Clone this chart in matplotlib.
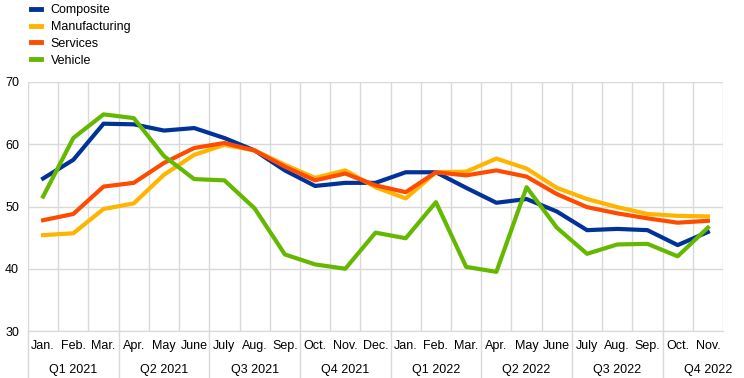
import numpy as np
import matplotlib.pyplot as plt
from matplotlib.lines import Line2D

plt.rcParams['font.family'] = ['Liberation Sans', 'DejaVu Sans']

# --- data (Jan 2021 - Nov 2022) ---
months = ['Jan.', 'Feb.', 'Mar.', 'Apr.', 'May', 'June', 'July', 'Aug.', 'Sep.', 'Oct.', 'Nov.', 'Dec.',
          'Jan.', 'Feb.', 'Mar.', 'Apr.', 'May', 'June', 'July', 'Aug.', 'Sep.', 'Oct.', 'Nov.']
quarters = ['Q1 2021', 'Q2 2021', 'Q3 2021', 'Q4 2021', 'Q1 2022', 'Q2 2022', 'Q3 2022', 'Q4 2022']

composite = [54.5, 57.5, 63.3, 63.2, 62.2, 62.6, 61.0, 59.0, 55.8, 53.3, 53.8, 53.8,
             55.5, 55.5, 53.0, 50.6, 51.2, 49.2, 46.2, 46.4, 46.2, 43.8, 45.9]
manufacturing = [45.4, 45.7, 49.6, 50.5, 55.1, 58.3, 59.9, 59.0, 56.7, 54.6, 55.8, 53.1,
                 51.3, 55.5, 55.6, 57.7, 56.1, 53.0, 51.2, 49.9, 48.8, 48.5, 48.4]
services = [47.8, 48.8, 53.2, 53.8, 57.0, 59.4, 60.2, 59.0, 56.4, 54.2, 55.3, 53.4,
            52.3, 55.5, 55.0, 55.8, 54.8, 52.0, 49.9, 48.9, 48.1, 47.4, 47.7]
vehicle = [51.6, 61.0, 64.8, 64.2, 58.1, 54.4, 54.2, 49.7, 42.3, 40.7, 40.0, 45.8,
           44.9, 50.7, 40.3, 39.5, 53.1, 46.6, 42.4, 43.9, 44.0, 42.0, 46.6]

series = [('Composite', composite, '#003299'),
          ('Manufacturing', manufacturing, '#FFB400'),
          ('Services', services, '#FF4B00'),
          ('Vehicle', vehicle, '#65B800')]

fig = plt.figure(figsize=(7.44, 3.78), dpi=100)
ax = fig.add_axes([28 / 744, 1 - 331 / 378, 695 / 744, 249 / 378])

x = np.arange(len(months)) + 0.5
for name, vals, col in series:
    ax.plot(x, vals, color=col, lw=3, solid_joinstyle='round', label=name)

ax.set_xlim(0, len(months))
ax.set_ylim(30, 70)
ax.set_yticks([30, 40, 50, 60, 70])
ax.set_xticks(np.arange(len(months) + 1))
ax.set_xticklabels([])
ax.tick_params(length=0, labelsize=9, colors='black')
ax.tick_params(axis='y', pad=16.5)
for lbl in ax.get_yticklabels():
    lbl.set_horizontalalignment('left')
ax.grid(True, color='#d9d9d9', lw=1)
ax.set_axisbelow(True)
for s in ['top', 'right', 'left']:
    ax.spines[s].set_visible(False)
ax.spines['bottom'].set_color('#d9d9d9')

# month labels and quarter labels
trans = ax.get_xaxis_transform()
for i, m in enumerate(months):
    ax.text(i + 0.5, -0.062, m, transform=trans, ha='center', va='center', fontsize=9)
for q, name in enumerate(quarters):
    ax.text(q * 3 + 1.5, -0.155, name, transform=trans, ha='center', va='center', fontsize=9)
for b in range(0, len(months), 3):
    ax.plot([b, b], [0, -0.2], transform=trans, color='#d9d9d9', lw=1, clip_on=False)

handles = [Line2D([], [], color=c, lw=3.5) for _, _, c in series]
fig.legend(handles, [n for n, _, _ in series], loc='upper left', bbox_to_anchor=(0.028, 1.015),
           frameon=False, fontsize=9, handlelength=0.85, handletextpad=0.75, labelspacing=0.38,
           borderpad=0.3)

fig.savefig('out.png', dpi=100)
